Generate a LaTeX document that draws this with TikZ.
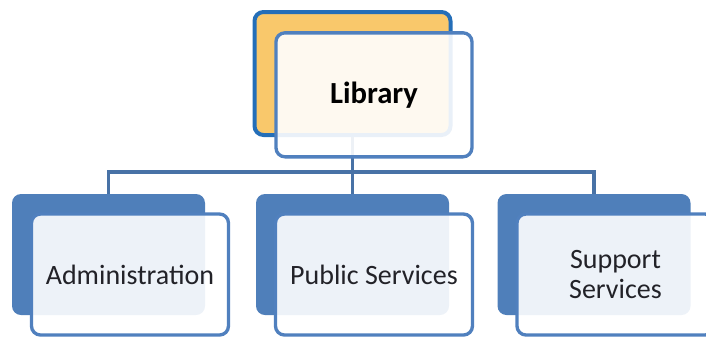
\documentclass[tikz,border=0pt]{standalone}
\usepackage{fontspec}
\setmainfont{Carlito}
\usetikzlibrary{positioning}
\definecolor{unitBlue}{RGB}{79,127,186}
\definecolor{headBlue}{RGB}{36,110,184}
\definecolor{headGold}{RGB}{249,200,107}
\definecolor{edgeBlue}{RGB}{80,128,190}
\definecolor{linkBlue}{RGB}{72,114,166}
\definecolor{inkDark}{RGB}{34,34,40}
\tikzset{
  unitback/.style={rectangle, rounded corners=6.75pt, fill=unitBlue,
                   minimum width=144.75pt, minimum height=90.75pt, inner sep=0pt},
  headback/.style={rectangle, rounded corners=6.75pt, fill=headGold,
                   draw=headBlue, line width=3pt,
                   minimum width=147pt, minimum height=92.25pt, inner sep=0pt},
  frontbox/.style={rectangle, rounded corners=6.75pt, fill=white,
                   fill opacity=0.9, text opacity=1, draw=edgeBlue,
                   line width=2.5pt, minimum width=147.75pt,
                   minimum height=90.75pt, inner sep=0pt, align=center,
                   text=inkDark, font=\fontsize{21}{22.5}\selectfont,
                   xshift=16.1pt, yshift=-15pt},
  link/.style={draw=linkBlue, line width=2.5pt}
}

\begin{document}
\begin{tikzpicture}[x=0.75pt, y=-0.75pt]
\useasboundingbox (0,0) rectangle (706,337);

% --- back cards -------------------------------------------------------------
\node[headback] (lib-back) at (352.5,73.5) {};
\node[unitback] (adm-back) at (108.5,254.5) {};
\node[unitback] (pub-back) at (352.5,254.5) {};
\node[unitback] (sup-back) at (594,254.5) {};

% --- connectors -------------------------------------------------------------
\coordinate (bus) at (352.5,172);
\draw[link] (lib-back.south) -- (bus);
\draw[link] (bus) -| (adm-back.north);
\draw[link] (bus) -- (pub-back.north);
\draw[link] (bus) -| (sup-back.north);

% --- front cards with the labels --------------------------------------------
\node[frontbox, minimum width=147pt, minimum height=93pt, yshift=-1pt,
      font=\fontsize{23}{24}\selectfont\bfseries, text=black]
  (lib) at (lib-back) {Library};
\node[frontbox] (adm) at (adm-back) {Administration};
\node[frontbox] (pub) at (pub-back) {Public Services};
\node[frontbox] (sup) at (sup-back) {Support\\Services};

\end{tikzpicture}
\end{document}
